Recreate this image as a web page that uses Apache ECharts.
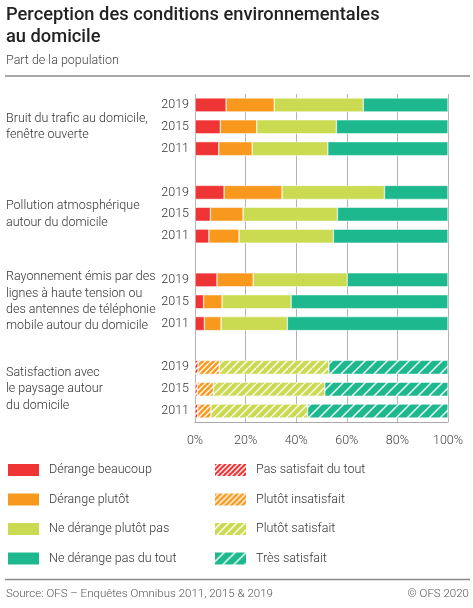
<!DOCTYPE html>
<html>
<head>
<meta charset="utf-8">
<script src="https://cdn.jsdelivr.net/npm/echarts@6/dist/echarts.min.js"></script>
<style>
html,body{margin:0;padding:0;background:#fff;}
#chart{width:473px;height:608px;}
</style>
</head>
<body>
<div id="chart"></div>
<script>
// ---- Data ----
const groups = [
  'Bruit du trafic au domicile,\nfenêtre ouverte',
  'Pollution atmosphérique\nautour du domicile',
  'Rayonnement émis par des\nlignes à haute tension ou\ndes antennes de téléphonie\nmobile autour du domicile',
  'Satisfaction avec\nle paysage autour\ndu domicile'
];
const years = ['2019', '2015', '2011'];
const xTicks = ['0%', '20%', '40%', '60%', '80%', '100%'];

// Groups 1-3 (2019, 2015, 2011 per group)
const derangeBeaucoup    = [12.3, 10.0, 9.4, 11.5, 6.1, 5.5, 8.7, 3.4, 3.7];
const derangePlutot      = [19.0, 14.4, 13.2, 22.9, 12.9, 11.9, 14.3, 7.3, 6.6];
const neDerangePlutotPas = [35.2, 31.5, 29.9, 40.5, 37.3, 37.3, 37.2, 27.3, 26.2];
const neDerangePasDuTout = [33.5, 44.1, 47.5, 25.1, 43.7, 45.3, 39.8, 62.0, 63.5];
// Group 4 (2019, 2015, 2011)
const pasSatisfait      = [1.2, 0.9, 1.1];
const plutotInsatisfait = [8.4, 6.4, 5.2];
const plutotSatisfait   = [43.3, 44.0, 38.2];
const tresSatisfait     = [47.1, 48.7, 55.5];

const solidNames = ['Dérange beaucoup', 'Dérange plutôt', 'Ne dérange plutôt pas', 'Ne dérange pas du tout'];
const hatchNames = ['Pas satisfait du tout', 'Plutôt insatisfait', 'Plutôt satisfait', 'Très satisfait'];
const colors = ['#EF3435', '#F8991E', '#CADB52', '#1EB88E'];
const hatchSpacing = [5, 5.5, 8, 11];

// ---- Build rows (3 bars + gap per group) ----
const nSlots = groups.length * 4 - 1;
const slots = [];
for (let i = 0; i < nSlots; i++) slots.push('s' + i);

function solidRow(arr) {
  const out = new Array(nSlots).fill('-');
  for (let g = 0; g < 3; g++) for (let y = 0; y < 3; y++) out[g * 4 + y] = arr[g * 3 + y];
  return out;
}
function hatchRow(arr) {
  const out = new Array(nSlots).fill('-');
  for (let y = 0; y < 3; y++) out[12 + y] = arr[y];
  return out;
}

function makePattern(color, s) {
  const size = Math.round(s * 2);
  const c = document.createElement('canvas');
  c.width = size; c.height = size;
  const ctx = c.getContext('2d');
  ctx.fillStyle = color;
  ctx.fillRect(0, 0, size, size);
  ctx.strokeStyle = 'rgba(255,255,255,0.95)';
  ctx.lineWidth = 1.5;
  const step = size / 2;
  for (let k = -size; k <= size * 2; k += step) {
    ctx.beginPath();
    ctx.moveTo(k, size);
    ctx.lineTo(k + size, 0);
    ctx.stroke();
  }
  return { image: c, repeat: 'repeat' };
}

const solidData = [derangeBeaucoup, derangePlutot, neDerangePlutotPas, neDerangePasDuTout];
const hatchData = [pasSatisfait, plutotInsatisfait, plutotSatisfait, tresSatisfait];

const series = [];
solidData.forEach((arr, i) => {
  series.push({
    name: solidNames[i], type: 'bar', stack: 'total', barWidth: 14,
    yAxisIndex: 0,
    itemStyle: { color: colors[i], borderColor: '#fff', borderWidth: 0.5 },
    emphasis: { disabled: true },
    data: solidRow(arr)
  });
});
hatchData.forEach((arr, i) => {
  series.push({
    name: hatchNames[i], type: 'bar', stack: 'total', barWidth: 14,
    yAxisIndex: 0,
    itemStyle: { color: makePattern(colors[i], hatchSpacing[i]), borderColor: '#fff', borderWidth: 0.5 },
    emphasis: { disabled: true },
    data: hatchRow(arr)
  });
});

const FONT = 'Roboto, "Noto Sans", sans-serif';
const LIGHT = 300;
const chart = echarts.init(document.getElementById('chart'), null, { renderer: 'canvas' });
chart.setOption({
  animation: false,
  backgroundColor: '#fff',
  textStyle: { fontFamily: FONT },
  title: [
    {
      text: 'Perception des conditions environnementales\nau domicile',
      left: 6, top: 5, padding: 0,
      textStyle: { fontSize: 18.3, fontWeight: 500, color: '#222', lineHeight: 21.5, fontFamily: FONT }
    },
    {
      text: 'Part de la population',
      left: 6, top: 53, padding: 0,
      textStyle: { fontSize: 12.5, fontWeight: LIGHT, color: '#444', lineHeight: 15, fontFamily: FONT }
    }
  ],
  grid: { left: 195, right: 25, top: 94, height: 328, containLabel: false },
  xAxis: {
    type: 'value', min: 0, max: 100, interval: 20,
    axisLine: { show: true, lineStyle: { color: '#aaa', width: 1 } },
    axisTick: { show: false },
    splitLine: { show: true, lineStyle: { color: '#b4b4b4', width: 1 } },
    axisLabel: {
      margin: 12, fontSize: 12.5, fontWeight: LIGHT, color: '#444', fontFamily: FONT,
      formatter: (v) => xTicks[Math.round(v / 20)]
    }
  },
  yAxis: [
    {
      type: 'category', inverse: true, data: slots,
      axisLine: { show: false }, axisTick: { show: false },
      axisLabel: {
        margin: 6, fontSize: 12.5, fontWeight: LIGHT, color: '#333', fontFamily: FONT, interval: 0,
        formatter: (v, idx) => (idx % 4 === 3 ? '' : years[idx % 4])
      }
    },
    {
      type: 'category', inverse: true, data: slots, position: 'left',
      axisLine: { show: false }, axisTick: { show: false },
      axisLabel: {
        margin: 189, align: 'left', fontSize: 12.5, fontWeight: LIGHT, color: '#333', lineHeight: 16.3,
        fontFamily: FONT, interval: 0,
        formatter: (v, idx) => (idx % 4 === 1 ? groups[Math.floor(idx / 4)] : '')
      }
    }
  ],
  legend: [
    {
      data: solidNames, orient: 'vertical', left: 6, top: 462, padding: 0,
      icon: 'rect', itemWidth: 33, itemHeight: 14, itemGap: 13.5,
      selectedMode: false,
      textStyle: { fontSize: 12.5, fontWeight: LIGHT, color: '#333', fontFamily: FONT, padding: [0, 0, 0, 4] }
    },
    {
      data: hatchNames, orient: 'vertical', left: 213, top: 462, padding: 0,
      icon: 'rect', itemWidth: 33, itemHeight: 14, itemGap: 13.5,
      selectedMode: false,
      textStyle: { fontSize: 12.5, fontWeight: LIGHT, color: '#333', fontFamily: FONT, padding: [0, 0, 0, 4] }
    }
  ],
  graphic: [
    { type: 'line', shape: { x1: 5, y1: 76, x2: 470, y2: 76 }, style: { stroke: '#8a8a8a', lineWidth: 1.5 } },
    { type: 'line', shape: { x1: 5, y1: 579.5, x2: 470, y2: 579.5 }, style: { stroke: '#8a8a8a', lineWidth: 1.5 } },
    { type: 'text', x: 6, y: 594, style: { text: 'Source: OFS – Enquêtes Omnibus 2011, 2015 & 2019', fill: '#555', font: '300 11.5px ' + FONT, verticalAlign: 'middle', align: 'left' } },
    { type: 'text', x: 469, y: 594, style: { text: '© OFS 2020', fill: '#555', font: '300 11.5px ' + FONT, verticalAlign: 'middle', align: 'right' } }
  ],
  series: series
});
</script>
</body>
</html>
